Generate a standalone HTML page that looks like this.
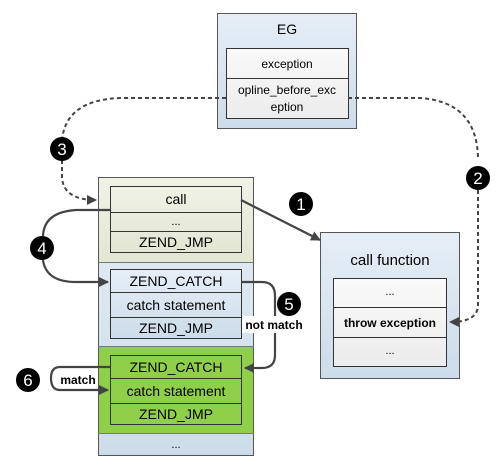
<!DOCTYPE html>
<html><head><style>body{margin:0;background:#fff}svg{display:block}text{font-family:"Liberation Sans",sans-serif;}</style></head><body>
<svg width="500" height="467" viewBox="0 0 500 467" xmlns="http://www.w3.org/2000/svg">
<defs>
<linearGradient id="bl" x1="0" y1="0" x2="0" y2="1"><stop offset="0" stop-color="#e6eef6"/><stop offset="1" stop-color="#ccdcea"/></linearGradient>
<linearGradient id="bg" x1="0" y1="0" x2="0" y2="1"><stop offset="0" stop-color="#f0f2e6"/><stop offset="1" stop-color="#e2e6d2"/></linearGradient>
<linearGradient id="wh" x1="0" y1="0" x2="0" y2="1"><stop offset="0" stop-color="#fafafa"/><stop offset="1" stop-color="#ececec"/></linearGradient>
<marker id="ar" markerWidth="10" markerHeight="10" refX="9" refY="5" orient="auto" markerUnits="userSpaceOnUse"><path d="M0,0 L10,5 L0,10 z" fill="#444"/></marker>
</defs>
<!-- EG -->
<rect x="217.5" y="13.5" width="139" height="115" fill="url(#bl)" stroke="#555"/>
<text x="287" y="34" font-size="14" text-anchor="middle">EG</text>
<rect x="226.5" y="48.5" width="122" height="70" fill="url(#wh)" stroke="#333"/>
<line x1="226" y1="78.5" x2="349" y2="78.5" stroke="#333"/>
<text x="287" y="68" font-size="12" text-anchor="middle">exception</text>
<text x="287" y="94" font-size="12" text-anchor="middle">opline_before_exc</text>
<text x="287" y="111" font-size="12" text-anchor="middle">eption</text>
<!-- left stack -->
<rect x="98.5" y="177.5" width="155" height="278" fill="url(#bl)" stroke="#555"/>
<rect x="99" y="178" width="154" height="84" fill="url(#bg)"/>
<line x1="98" y1="262.5" x2="254" y2="262.5" stroke="#777"/>
<rect x="99" y="346" width="154" height="87" fill="#8fcf4a"/>
<line x1="98" y1="346.5" x2="254" y2="346.5" stroke="#777"/>
<line x1="98" y1="433.5" x2="254" y2="433.5" stroke="#777"/>
<g stroke="#333" font-size="13">
<rect x="110.5" y="186.5" width="131" height="66" fill="url(#bg)"/>
<line x1="110" y1="212.5" x2="242" y2="212.5"/><line x1="110" y1="231.5" x2="242" y2="231.5"/>
<rect x="110.5" y="269.5" width="131" height="69" fill="url(#bl)"/>
<line x1="110" y1="292.5" x2="242" y2="292.5"/><line x1="110" y1="317.5" x2="242" y2="317.5"/>
<rect x="110.5" y="355.5" width="131" height="69" fill="#8fcf4a"/>
<line x1="110" y1="378.5" x2="242" y2="378.5"/><line x1="110" y1="403.5" x2="242" y2="403.5"/>
</g>
<g font-size="14" text-anchor="middle">
<text x="176" y="204">call</text>
<text x="176" y="225" font-size="11">...</text>
<text x="176" y="247">ZEND_JMP</text>
<text x="176" y="286">ZEND_CATCH</text>
<text x="176" y="310">catch statement</text>
<text x="176" y="333">ZEND_JMP</text>
<text x="176" y="372">ZEND_CATCH</text>
<text x="176" y="396">catch statement</text>
<text x="176" y="419">ZEND_JMP</text>
<text x="176" y="448" font-size="11">...</text>
</g>
<!-- call function -->
<rect x="320.5" y="232.5" width="139" height="146" fill="url(#bl)" stroke="#555"/>
<text x="390" y="265" font-size="15" text-anchor="middle">call function</text>
<rect x="333.5" y="278.5" width="113" height="88" fill="url(#wh)" stroke="#333"/>
<line x1="333" y1="307.5" x2="447" y2="307.5" stroke="#333"/><line x1="333" y1="337.5" x2="447" y2="337.5" stroke="#333"/>
<text x="390" y="295" font-size="11" text-anchor="middle">...</text>
<text x="390" y="327" font-size="12" font-weight="bold" text-anchor="middle">throw exception</text>
<text x="390" y="354" font-size="11" text-anchor="middle">...</text>
<!-- dotted -->
<g fill="none" stroke="#444" stroke-width="2" stroke-dasharray="4,3">
<path d="M226,98 L120,98 Q66,100 62,140"/>
<path d="M62,160 L62,178 Q64,200 96,200" marker-end="url(#ar)"/>
<path d="M348,98 L420,98 Q478,102 478,160"/>
<path d="M478,190 L478,305 Q478,322 450,322" marker-end="url(#ar)"/>
</g>
<!-- solid connectors -->
<g fill="none" stroke="#444" stroke-width="2.2">
<path d="M241,200 L320,240" marker-end="url(#ar)"/>
<path d="M110,210 L76,210 Q44,212 43,236"/>
<path d="M43,260 Q46,282 76,282 L108,282" marker-end="url(#ar)"/>
<path d="M241,282 L262,282 Q275,282 275,296 L275,355 Q275,368 262,368 L245,368" marker-end="url(#ar)"/>
<path d="M110,367 L60,367 Q51,367 51,378 Q51,390 60,390 L108,390" marker-end="url(#ar)"/>
</g>
<rect x="242" y="316" width="64" height="17" fill="#fff"/>
<text x="274" y="329" font-size="12" font-weight="bold" text-anchor="middle">not match</text>
<rect x="58" y="372" width="40" height="15" fill="#fff"/>
<text x="78" y="384" font-size="12" font-weight="bold" text-anchor="middle">match</text>
<!-- badges -->
<g font-family="Liberation Serif,serif" font-size="17" text-anchor="middle">
<circle cx="301" cy="204" r="12"/><text x="301" y="210" fill="#fff">1</text>
<circle cx="478" cy="178" r="12"/><text x="478" y="184" fill="#fff">2</text>
<circle cx="62" cy="149" r="12"/><text x="62" y="155" fill="#fff">3</text>
<circle cx="42" cy="248" r="12"/><text x="42" y="254" fill="#fff">4</text>
<circle cx="289" cy="304" r="12"/><text x="289" y="310" fill="#fff">5</text>
<circle cx="28" cy="380" r="12"/><text x="28" y="386" fill="#fff">6</text>
</g>
</svg>
</body></html>
